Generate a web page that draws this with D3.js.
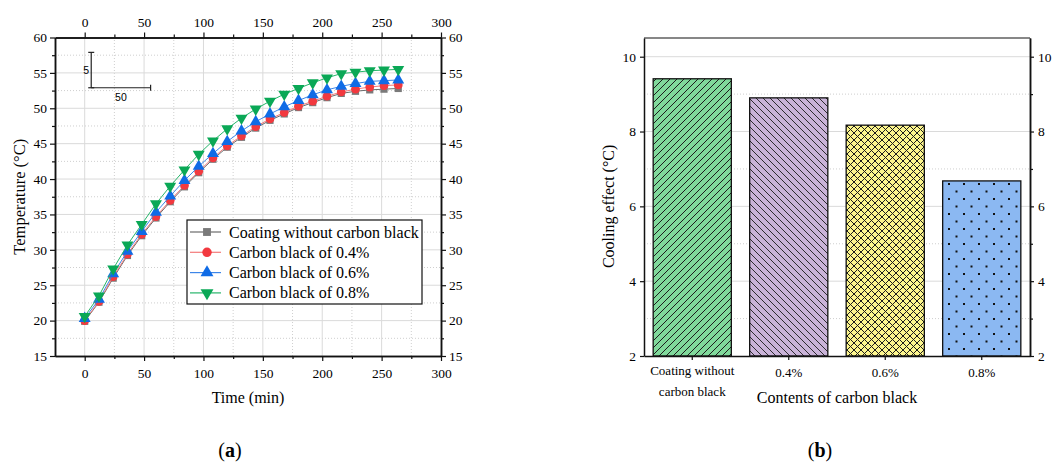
<!DOCTYPE html>
<html>
<head>
<meta charset="utf-8">
<script src="https://d3js.org/d3.v7.min.js"></script>
<style>
  body { margin: 0; background: #fff; }
  text { font-family: "Liberation Serif", "Times New Roman", serif; fill: #000; }
  .grid-major line { stroke: #dadada; stroke-width: 1; }
  .grid-minor line { stroke: #cfcfcf; stroke-width: 1; stroke-dasharray: 1,2; }
  .axis path.domain { stroke: #111; stroke-width: 1.5; }
  .axis line { stroke: #111; stroke-width: 1.2; }
</style>
</head>
<body>
<script>
// ---- data (a): temperature curves ----
var time = [0, 12, 24, 36, 48, 60, 72, 84, 96, 108, 120, 132, 144, 156, 168, 180, 192, 204, 216, 228, 240, 252, 264];
var tempNone = [19.9, 22.6, 26.0, 29.2, 32.0, 34.5, 36.8, 38.9, 40.9, 42.8, 44.5, 45.9, 47.2, 48.3, 49.2, 50.1, 50.8, 51.5, 52.1, 52.4, 52.6, 52.7, 52.8];
var temp04 = [20.0, 22.7, 26.2, 29.4, 32.2, 34.7, 37.0, 39.1, 41.1, 43.0, 44.7, 46.1, 47.4, 48.5, 49.4, 50.3, 51.0, 51.7, 52.3, 52.7, 53.0, 53.2, 53.3];
var temp06 = [20.3, 23.0, 26.6, 29.8, 32.6, 35.3, 37.6, 39.8, 41.8, 43.6, 45.3, 46.8, 48.1, 49.2, 50.2, 51.1, 51.9, 52.6, 53.1, 53.5, 53.8, 53.9, 54.0];
var temp08 = [20.6, 23.5, 27.3, 30.7, 33.6, 36.5, 39.0, 41.3, 43.5, 45.4, 47.1, 48.6, 49.9, 51.0, 52.0, 52.8, 53.6, 54.3, 54.9, 55.1, 55.3, 55.4, 55.5];
var seriesNames = ["Coating without carbon black", "Carbon black of 0.4%", "Carbon black of 0.6%", "Carbon black of 0.8%"];
var xTicksA = [0, 50, 100, 150, 200, 250, 300];
var xMinorA = [25, 75, 125, 175, 225, 275];
var yTicksA = [15, 20, 25, 30, 35, 40, 45, 50, 55, 60];
var yMinorA = [17.5, 22.5, 27.5, 32.5, 37.5, 42.5, 47.5, 52.5, 57.5];

// ---- data (b): cooling effect ----
var barCats = ["Coating without carbon black", "0.4%", "0.6%", "0.8%"];
var coolingEffect = [9.41, 8.90, 8.17, 6.68];
var yTicksB = [2, 4, 6, 8, 10];
var yMinorB = [3, 5, 7, 9];

var svg = d3.select("body").append("svg")
    .attr("width", 1054).attr("height", 466);
svg.append("rect").attr("width", 1054).attr("height", 466).attr("fill", "#fff");

var defs = svg.append("defs");

// ================= panel (a) =================
var xa = d3.scaleLinear().domain([-25, 300]).range([55, 441]);
var ya = d3.scaleLinear().domain([15, 60]).range([356, 37.5]);
var ga = svg.append("g");

// grid
ga.append("g").attr("class", "grid-minor")
  .selectAll("line.v").data(xMinorA).join("line")
  .attr("x1", d => xa(d)).attr("x2", d => xa(d)).attr("y1", ya(15)).attr("y2", ya(60));
ga.append("g").attr("class", "grid-minor")
  .selectAll("line.h").data(yMinorA).join("line")
  .attr("y1", d => ya(d)).attr("y2", d => ya(d)).attr("x1", xa(-25)).attr("x2", xa(300));
ga.append("g").attr("class", "grid-major")
  .selectAll("line").data(xTicksA.slice(0, -1)).join("line")
  .attr("x1", d => xa(d)).attr("x2", d => xa(d)).attr("y1", ya(15)).attr("y2", ya(60));
ga.append("g").attr("class", "grid-major")
  .selectAll("line").data(yTicksA.slice(1, -1)).join("line")
  .attr("y1", d => ya(d)).attr("y2", d => ya(d)).attr("x1", xa(-25)).attr("x2", xa(300));

function styleTicks(g) {
  g.selectAll("text").style("font-size", "13.5px").style("font-family", '"Liberation Serif", serif');
}

// axes (major + minor)
ga.append("g").attr("class", "axis").attr("transform", "translate(0," + ya(15) + ")")
  .call(d3.axisBottom(xa).tickValues(xTicksA).tickSize(5).tickSizeOuter(0).tickPadding(7))
  .call(styleTicks);
ga.append("g").attr("class", "axis").attr("transform", "translate(0," + ya(15) + ")")
  .call(d3.axisBottom(xa).tickValues(xMinorA).tickSize(3).tickSizeOuter(0).tickFormat(""));
ga.append("g").attr("class", "axis").attr("transform", "translate(0," + ya(60) + ")")
  .call(d3.axisTop(xa).tickValues(xTicksA).tickSize(5).tickSizeOuter(0).tickPadding(6))
  .call(styleTicks);
ga.append("g").attr("class", "axis").attr("transform", "translate(0," + ya(60) + ")")
  .call(d3.axisTop(xa).tickValues(xMinorA).tickSize(3).tickSizeOuter(0).tickFormat(""));
ga.append("g").attr("class", "axis").attr("transform", "translate(" + xa(-25) + ",0)")
  .call(d3.axisLeft(ya).tickValues(yTicksA).tickSize(5).tickSizeOuter(0).tickPadding(3))
  .call(styleTicks);
ga.append("g").attr("class", "axis").attr("transform", "translate(" + xa(-25) + ",0)")
  .call(d3.axisLeft(ya).tickValues(yMinorA).tickSize(3).tickSizeOuter(0).tickFormat(""));
ga.append("g").attr("class", "axis").attr("transform", "translate(" + xa(300) + ",0)")
  .call(d3.axisRight(ya).tickValues(yTicksA).tickSize(5).tickSizeOuter(0).tickPadding(3))
  .call(styleTicks);
ga.append("g").attr("class", "axis").attr("transform", "translate(" + xa(300) + ",0)")
  .call(d3.axisRight(ya).tickValues(yMinorA).tickSize(3).tickSizeOuter(0).tickFormat(""));

// axis titles
ga.append("text").attr("x", xa(137.5)).attr("y", 403).attr("text-anchor", "middle")
  .style("font-size", "16px").text("Time (min)");
ga.append("text").attr("transform", "translate(25," + ya(37.5) + ") rotate(-90)")
  .attr("text-anchor", "middle").style("font-size", "16.5px").text("Temperature (°C)");

// scale bar (5 °C, 50 min)
var sb = ga.append("g").attr("stroke", "#222").attr("stroke-width", 1.2);
var sbX = 5.5, sbY = 52.9;
sb.append("line").attr("x1", xa(sbX)).attr("x2", xa(sbX)).attr("y1", ya(sbY)).attr("y2", ya(sbY + 5));
sb.append("line").attr("x1", xa(sbX) - 3).attr("x2", xa(sbX) + 3).attr("y1", ya(sbY + 5)).attr("y2", ya(sbY + 5));
sb.append("line").attr("x1", xa(sbX)).attr("x2", xa(sbX + 50)).attr("y1", ya(sbY)).attr("y2", ya(sbY));
sb.append("line").attr("x1", xa(sbX + 50)).attr("x2", xa(sbX + 50)).attr("y1", ya(sbY) - 3).attr("y2", ya(sbY) + 3);
sb.append("line").attr("x1", xa(sbX) - 3).attr("x2", xa(sbX) + 3).attr("y1", ya(sbY)).attr("y2", ya(sbY));
ga.append("text").attr("x", xa(sbX) - 5).attr("y", ya(sbY + 2.5) + 4).attr("text-anchor", "middle")
  .style("font-family", '"Liberation Sans", sans-serif').style("font-size", "10.5px").text("5");
ga.append("text").attr("x", xa(sbX + 25)).attr("y", ya(sbY) + 13).attr("text-anchor", "middle")
  .style("font-family", '"Liberation Sans", sans-serif').style("font-size", "10.5px").text("50");

// series
var seriesVals = [tempNone, temp04, temp06, temp08];
var lineColors = ["#6b6b6b", "#f37a7a", "#3d86e8", "#27b56a"];
var markColors = ["#7a7a7a", "#f2393f", "#0f6be6", "#0aa856"];
var symbols = [d3.symbolSquare, d3.symbolCircle, d3.symbolTriangle, d3.symbolTriangle];
var symSizes = [52, 60, 62, 62];
var rot = [0, 0, 0, 180];

var line = d3.line().x(d => xa(d[0])).y(d => ya(d[1]));
seriesVals.forEach(function (vals, i) {
  var pts = time.map((t, j) => [t, vals[j]]);
  var g = ga.append("g");
  g.append("path").datum(pts).attr("d", line).attr("fill", "none")
    .attr("stroke", lineColors[i]).attr("stroke-width", 1);
  g.selectAll("path.m").data(pts).join("path").attr("class", "m")
    .attr("transform", d => "translate(" + xa(d[0]) + "," + ya(d[1]) + ") rotate(" + rot[i] + ")")
    .attr("d", d3.symbol().type(symbols[i]).size(symSizes[i]))
    .attr("fill", markColors[i]);
});

// legend
var lg = ga.append("g").attr("transform", "translate(187,220)");
lg.append("rect").attr("width", 235).attr("height", 84).attr("fill", "#fff")
  .attr("stroke", "#111").attr("stroke-width", 1.2);
seriesNames.forEach(function (name, i) {
  var yy = 12 + i * 20.3;
  lg.append("line").attr("x1", 3).attr("x2", 34).attr("y1", yy).attr("y2", yy)
    .attr("stroke", lineColors[i]).attr("stroke-width", 1.2);
  lg.append("path").attr("transform", "translate(20," + yy + ") rotate(" + rot[i] + ")")
    .attr("d", d3.symbol().type(symbols[i]).size(symSizes[i] + 10)).attr("fill", markColors[i]);
  lg.append("text").attr("x", 42).attr("y", yy + 5.5).style("font-size", "16px").text(name);
});

// ================= panel (b) =================
var xb = d3.scaleBand().domain(barCats).range([644, 1030]).paddingInner(0.19).paddingOuter(0.095);
var yb = d3.scaleLinear().domain([2, 10.5]).range([356, 38]);
var gb = svg.append("g");

gb.append("g").attr("class", "grid-minor")
  .selectAll("line").data(yMinorB).join("line")
  .attr("y1", d => yb(d)).attr("y2", d => yb(d)).attr("x1", 644).attr("x2", 1030);
gb.append("g").attr("class", "grid-major")
  .selectAll("line").data(yTicksB.slice(1)).join("line")
  .attr("y1", d => yb(d)).attr("y2", d => yb(d)).attr("x1", 644).attr("x2", 1030);

// patterns
function pat(id, w, h, bg) {
  var p = defs.append("pattern").attr("id", id).attr("patternUnits", "userSpaceOnUse")
    .attr("width", w).attr("height", h);
  p.append("rect").attr("width", w).attr("height", h).attr("fill", bg);
  return p;
}
var p1 = pat("hatchFwd", 7, 7, "#80d99b");
p1.append("path").attr("d", "M-1,8 L8,-1 M-1,1 L1,-1 M6,8 L8,6").attr("stroke", "#1c1c1c").attr("stroke-width", 1);
var p2 = pat("hatchBack", 7, 7, "#c9b3d8");
p2.append("path").attr("d", "M-1,-1 L8,8 M-1,6 L1,8 M6,-1 L8,1").attr("stroke", "#1c1c1c").attr("stroke-width", 0.9);
var p3 = pat("cross", 7, 7, "#fdf68e");
p3.append("path").attr("d", "M-1,-1 L8,8 M-1,6 L1,8 M6,-1 L8,1 M-1,8 L8,-1 M-1,1 L1,-1 M6,8 L8,6")
  .attr("stroke", "#1c1c1c").attr("stroke-width", 1);
var p4 = pat("dots", 15, 15, "#8bb8f2");
p4.append("rect").attr("x", 3).attr("y", 3).attr("width", 2).attr("height", 2).attr("fill", "#111");
p4.append("rect").attr("x", 10.5).attr("y", 10.5).attr("width", 2).attr("height", 2).attr("fill", "#111");
var fills = ["url(#hatchFwd)", "url(#hatchBack)", "url(#cross)", "url(#dots)"];

gb.selectAll("rect.bar").data(barCats).join("rect").attr("class", "bar")
  .attr("x", d => xb(d)).attr("width", xb.bandwidth())
  .attr("y", (d, i) => yb(coolingEffect[i])).attr("height", (d, i) => yb(2) - yb(coolingEffect[i]))
  .attr("fill", (d, i) => fills[i]).attr("stroke", "#111").attr("stroke-width", 1.3);

// axes
var bx = gb.append("g").attr("class", "axis").attr("transform", "translate(0,356)")
  .call(d3.axisBottom(xb).tickSize(4).tickSizeOuter(0).tickPadding(6).tickFormat(""));
bx.selectAll(".tick").append("text").attr("text-anchor", "middle")
  .style("font-size", "13px").each(function (d) {
    var t = d3.select(this);
    if (d === barCats[0]) {
      t.append("tspan").attr("x", 0).attr("y", 19).text("Coating without");
      t.append("tspan").attr("x", 0).attr("y", 40).text("carbon black");
    } else {
      t.append("tspan").attr("x", 0).attr("y", 21).text(d);
    }
  });
gb.append("g").attr("class", "axis").attr("transform", "translate(644,0)")
  .call(d3.axisLeft(yb).tickValues(yTicksB).tickSize(4).tickSizeOuter(0).tickPadding(4))
  .call(styleTicks);
gb.append("g").attr("class", "axis").attr("transform", "translate(1030,0)")
  .call(d3.axisRight(yb).tickValues(yTicksB).tickSize(4).tickSizeOuter(0).tickPadding(4))
  .call(styleTicks);
gb.append("g").attr("class", "axis").attr("transform", "translate(1030,0)")
  .call(d3.axisRight(yb).tickValues(yMinorB).tickSize(3).tickSizeOuter(0).tickFormat(""));
gb.append("line").attr("x1", 644).attr("x2", 1030).attr("y1", 38).attr("y2", 38)
  .attr("stroke", "#111").attr("stroke-width", 1.2);

gb.append("text").attr("x", 837).attr("y", 403).attr("text-anchor", "middle")
  .style("font-size", "16px").text("Contents of carbon black");
gb.append("text").attr("transform", "translate(614," + yb(6) + ") rotate(-90)")
  .attr("text-anchor", "middle").style("font-size", "16px").text("Cooling effect (°C)");

// panel labels
[["a", 230], ["b", 820]].forEach(function (l) {
  var t = svg.append("text").attr("x", l[1]).attr("y", 457).attr("text-anchor", "middle")
    .style("font-size", "20px");
  t.append("tspan").text("(");
  t.append("tspan").style("font-weight", "bold").text(l[0]);
  t.append("tspan").text(")");
});
</script>
</body>
</html>
